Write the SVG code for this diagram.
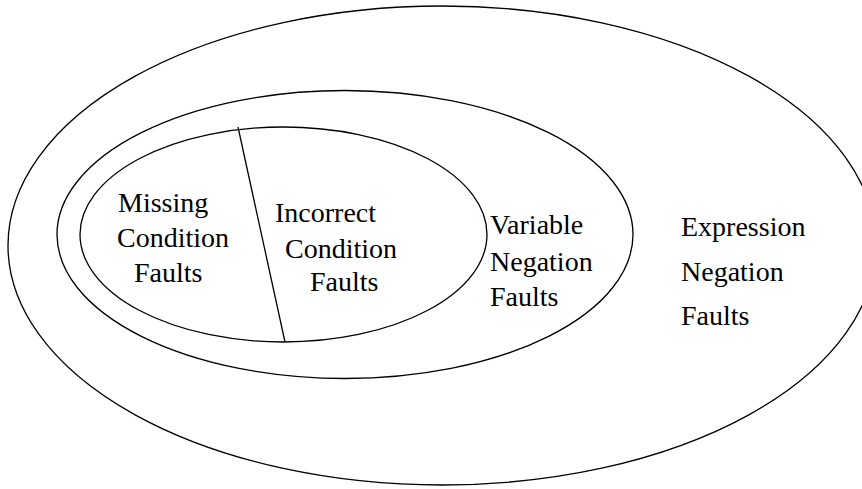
<svg xmlns="http://www.w3.org/2000/svg" width="862" height="489" viewBox="0 0 862 489">
<style>
.ring{fill:none;stroke:#000;stroke-width:1.3}
text{font-family:'Liberation Serif','Times New Roman','DejaVu Serif',serif;font-size:28px;fill:#000}
</style>
<rect width="862" height="489" fill="#fff"/>
<g id="expression-negation">
<ellipse class="ring" cx="442" cy="245.5" rx="434" ry="239.5"/>
<text x="681" y="236">Expression</text>
<text x="681" y="281">Negation</text>
<text x="681" y="325">Faults</text>
</g>
<g id="variable-negation">
<ellipse class="ring" cx="345" cy="234.5" rx="288" ry="144"/>
<text x="490" y="234">Variable</text>
<text x="490" y="271">Negation</text>
<text x="490" y="306">Faults</text>
</g>
<g id="condition-faults">
<ellipse class="ring" cx="283.5" cy="234.5" rx="203.5" ry="107.5"/>
</g>
<g id="connectors">
<line class="ring" x1="238" y1="127" x2="285" y2="342"/>
</g>
<g id="missing-condition">
<text x="118" y="212">Missing</text>
<text x="117" y="247">Condition</text>
<text x="134" y="282">Faults</text>
</g>
<g id="incorrect-condition">
<text x="275" y="222">Incorrect</text>
<text x="285" y="258">Condition</text>
<text x="310" y="291">Faults</text>
</g>
</svg>
